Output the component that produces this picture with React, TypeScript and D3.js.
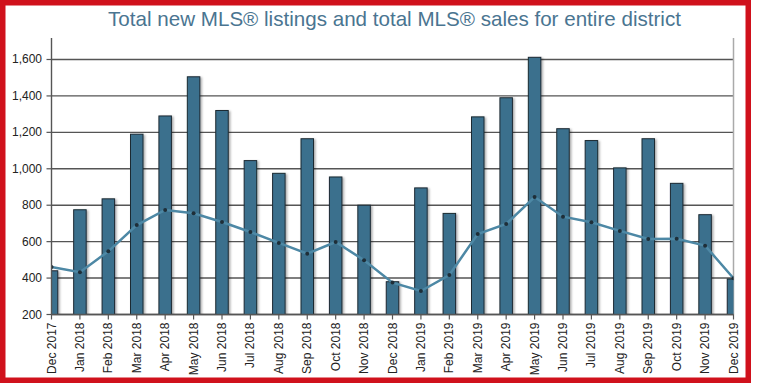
import React from "react";
import * as d3 from "d3";

const months = [
  "Dec 2017","Jan 2018","Feb 2018","Mar 2018","Apr 2018","May 2018","Jun 2018","Jul 2018","Aug 2018","Sep 2018","Oct 2018","Nov 2018",
  "Dec 2018","Jan 2019","Feb 2019","Mar 2019","Apr 2019","May 2019","Jun 2019","Jul 2019","Aug 2019","Sep 2019","Oct 2019","Nov 2019","Dec 2019",
];
const listings = [440,775,835,1190,1290,1505,1320,1045,975,1165,955,800,380,895,755,1285,1390,1612,1220,1155,1005,1165,920,748,395];
const sales = [461,432,547,691,774,756,708,653,593,534,598,498,375,329,417,642,697,845,737,706,659,615,616,578,399];
const yTicks = [200,400,600,800,1000,1200,1400,1600];
const title = "Total new MLS® listings and total MLS® sales for entire district";

const W = 757, H = 389;
const left = 51.5, right = 733.5, top = 38, bottom = 314.5;

export default function App() {
  const x = d3.scalePoint<string>().domain(months).range([left, right]);
  const y = d3.scaleLinear().domain([200, 1718]).range([bottom, top]);
  const barW = 12.5;
  const line = d3.line<number>().x((_, i) => x(months[i])!).y((d) => y(d));
  const fmt = d3.format(",");
  return (
    <svg width={W} height={H} style={{ position: "absolute", left: 0, top: 0, background: "#fff" }}
      fontFamily="'Liberation Sans', Arial, sans-serif">
      <defs>
        <clipPath id="plot"><rect x={left} y={top - 5} width={right - left} height={bottom - top + 5} /></clipPath>
        <filter id="sh" x="-30%" y="-10%" width="170%" height="130%">
          <feDropShadow dx="1.5" dy="1" stdDeviation="1.2" floodColor="#000" floodOpacity="0.35" />
        </filter>
      </defs>
      <rect x={0} y={0} width={W} height={H} fill="#fff" />
      <text x={394.5} y={25.5} textAnchor="middle" fontSize={20.6} fill="#4a7591">{title}</text>
      {yTicks.map((t) => (
        <g key={t}>
          <line x1={left} x2={right} y1={y(t)} y2={y(t)} stroke="#555" strokeWidth={1.4} />
          <line x1={left - 5} x2={left} y1={y(t)} y2={y(t)} stroke="#555" strokeWidth={1.2} />
          <text x={42} y={y(t) + 4} textAnchor="end" fontSize={12} fill="#222">{fmt(t)}</text>
        </g>
      ))}
      <line x1={right} x2={right} y1={top} y2={bottom} stroke="#aaa" strokeWidth={1.5} />
      <g clipPath="url(#plot)">
        {listings.map((v, i) => (
          <rect key={i} x={x(months[i])! - barW / 2} y={y(v)} width={barW} height={bottom - y(v)}
            fill="#3b6f8d" stroke="#1c2a33" strokeWidth={1} filter="url(#sh)" />
        ))}
        <path d={line(sales) || ""} fill="none" stroke="#4d88a5" strokeWidth={2.5} />
        {sales.map((v, i) => (
          <circle key={i} cx={x(months[i])!} cy={y(v)} r={2} fill="#1e2e38" />
        ))}
      </g>
      <line x1={left} x2={left} y1={top} y2={bottom} stroke="#555" strokeWidth={1.4} />
      <line x1={left} x2={right} y1={bottom} y2={bottom} stroke="#555" strokeWidth={1.4} />
      {months.map((m) => (
        <g key={m} transform={`translate(${x(m)},${bottom})`}>
          <line y1={0} y2={5} stroke="#555" strokeWidth={1.2} />
          <text transform="rotate(-90)" x={-8} y={4} textAnchor="end" fontSize={12} fill="#222">{m}</text>
        </g>
      ))}
      <rect x={2.75} y={2.75} width={745.5} height={377.5} fill="none" stroke="#d0111c" strokeWidth={5.5} />
    </svg>
  );
}
